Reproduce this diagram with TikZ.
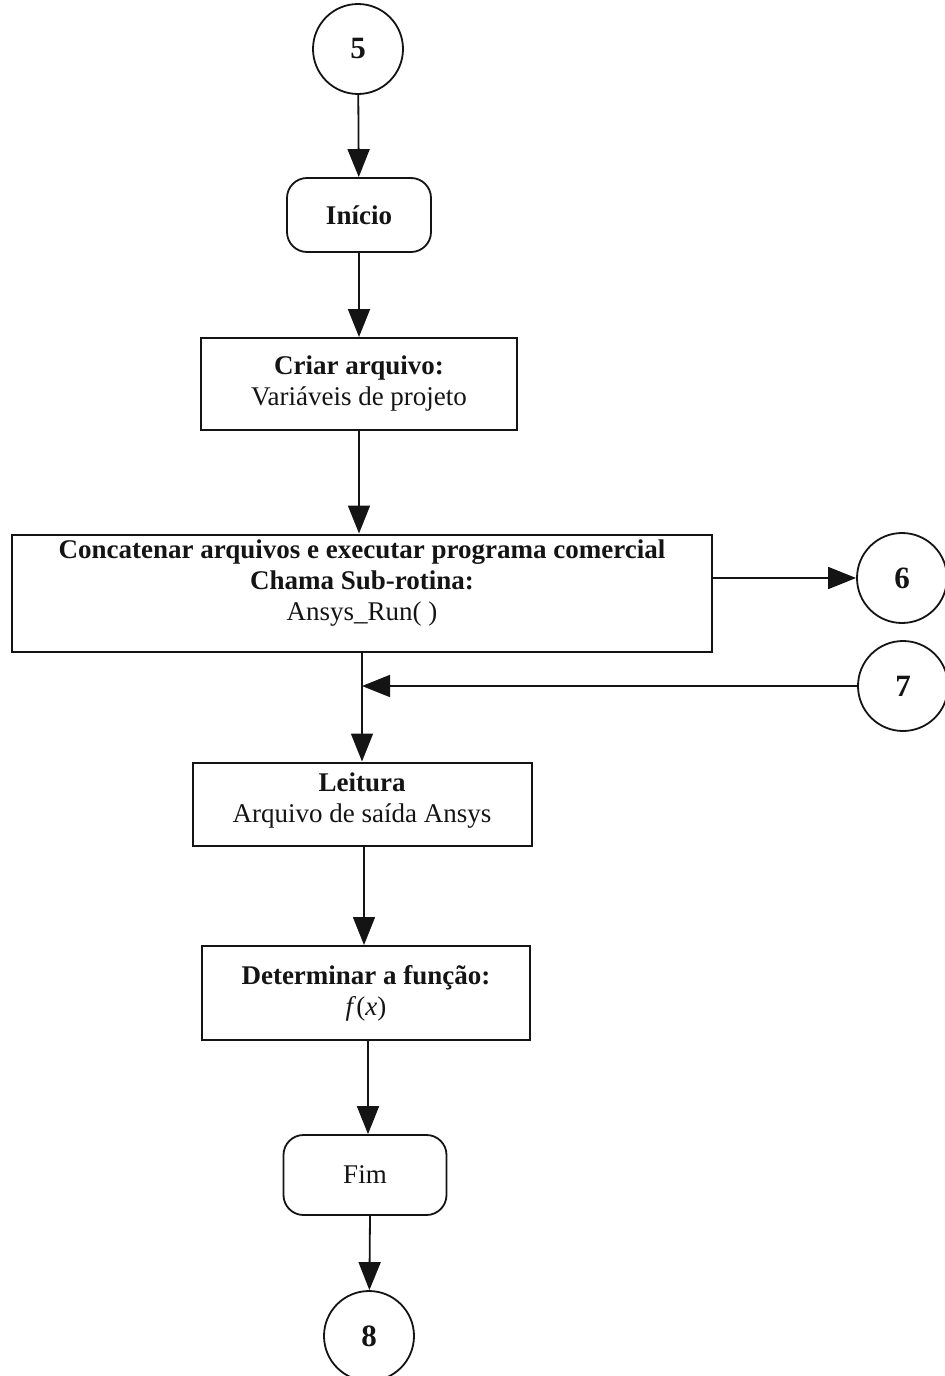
\documentclass[tikz,border=0pt]{standalone}
\usepackage{fontspec}
\setmainfont{Liberation Serif}
\usepackage{tikz}
\usetikzlibrary{arrows.meta, positioning}
\definecolor{tinta}{RGB}{20, 20, 20}

\begin{document}
\begin{tikzpicture}[x=0.5pt, y=-0.5pt,
    every node/.style={font=\fontsize{13.5}{15.5}\selectfont, text=tinta},
    conector/.style={circle, draw=tinta, line width=0.9pt, minimum size=45pt, inner sep=0pt, font=\fontsize{15.5}{17}\selectfont\bfseries},
    caixa/.style={rectangle, draw=tinta, line width=1pt, align=center, inner sep=2pt},
    terminal/.style={rectangle, rounded corners=10pt, draw=tinta, line width=0.9pt, align=center},
    seta/.style={draw=tinta, line width=0.9pt, -{Triangle[length=14pt, width=11pt]}}]
                % Bounding box
                \useasboundingbox (0,0) rectangle (945,1376);

                % Connectors (Circles)
                \node[conector] (c5) at (358,49) {5};
                \node[conector] (c6) at (902,578) {6};
                \node[conector] (c7) at (903,686) {7};
                \node[conector] (c8) at (369,1336) {8};

                % Start and End
                \node[terminal, minimum width=72pt, minimum height=37pt, font=\fontsize{13.5}{15.5}\selectfont\bfseries] (inicio) at (359,215) {Início};
                \node[terminal, minimum width=81.5pt, minimum height=40pt] (fim) at (365,1175) {Fim};

                % Process boxes
                \node[caixa, minimum width=158pt, minimum height=46pt] (criar) at (359,384)
                    {\textbf{Criar arquivo:}\\Variáveis de projeto};
                \node[caixa, minimum width=350pt, minimum height=58.5pt, inner sep=1pt, text depth=13pt] (concat) at (362,593)
                    {\textbf{Concatenar arquivos e executar programa comercial}\\\textbf{Chama Sub-rotina:}\\Ansys\_Run( )};
                \node[caixa, minimum width=169.5pt, minimum height=41.5pt, text depth=6pt] (leitura) at (362,804)
                    {\textbf{Leitura}\\Arquivo de saída Ansys};
                \node[caixa, minimum width=164pt, minimum height=47pt] (determ) at (366,993)
                    {\textbf{Determinar a função:}\\\textit{f}(\textit{x})};

                % Flow
                \coordinate (m7) at (362,686);
                \draw[seta] (c5) -- (inicio);
                \draw[seta] (inicio) -- (criar);
                \draw[seta] (criar) -- (criar |- concat.north);
                \draw[seta] (concat.east |- c6) -- (c6);
                \draw[seta] (concat.south) -- (leitura.north);
                \draw[seta] (c7) -- (m7);
                \draw[seta] (leitura.south -| 364,0) -- (determ.north -| 364,0);
                \draw[seta] (determ.south -| 368,0) -- (fim.north -| 368,0);
                \draw[seta] (fim.south -| 370,0) -- (c8);
            \end{tikzpicture}
\end{document}
